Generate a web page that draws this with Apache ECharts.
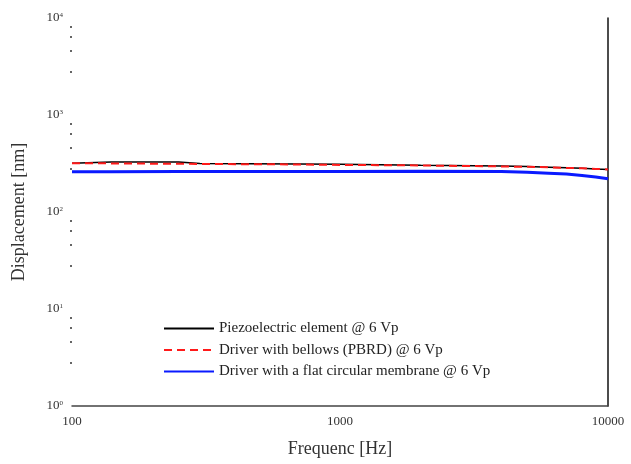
<!DOCTYPE html>
<html>
<head>
<meta charset="utf-8">
<title>Displacement vs frequency</title>
<script src="https://cdn.jsdelivr.net/npm/echarts@6/dist/echarts.min.js"></script>
<style>
  html, body { margin: 0; padding: 0; background: #fff; }
  #chart { width: 631px; height: 464px; }
</style>
</head>
<body>
<div id="chart"></div>
<script>
// frequencies [Hz] and displacements [nm]
var freq  = [100, 140, 250, 300, 700, 1000, 2000, 4000, 5000, 6000, 7000, 8000, 9000, 10000];
var piezo = [319, 328, 328, 316, 312, 310, 303, 298, 294, 290, 286, 282, 278, 275];
var bellows = [319, 317, 314, 313, 309, 306, 302, 295, 292, 289, 285, 282, 278, 275];
var membrane = [260, 260, 261, 261, 262, 262, 263, 262, 257, 251, 246, 238, 229, 220];
var names = [
  'Piezoelectric element @ 6 Vp',
  'Driver with bellows (PBRD) @ 6 Vp',
  'Driver with a flat circular membrane @ 6 Vp'
];

var pairs = function (ys) { return freq.map(function (f, i) { return [f, ys[i]]; }); };
var serif = 'Liberation Serif';

var chart = echarts.init(document.getElementById('chart'));
chart.setOption({
  animation: false,
  textStyle: { fontFamily: serif },
  grid: { left: 72, right: 23, top: 18, bottom: 58 },
  legend: {
    orient: 'vertical',
    left: 158, top: 316,
    itemWidth: 50, itemHeight: 12, itemGap: 6.5,
    itemStyle: { opacity: 0 },
    textStyle: { fontFamily: serif, fontSize: 15, color: '#222' },
    data: names
  },
  xAxis: {
    type: 'log', logBase: 10, min: 100, max: 10000,
    name: 'Frequenc [Hz]', nameLocation: 'middle', nameGap: 34,
    nameTextStyle: { fontFamily: serif, fontSize: 18, color: '#333' },
    axisLine: { lineStyle: { color: '#444', width: 1.5 } },
    axisTick: { show: false },
    axisLabel: {
      fontFamily: serif, fontSize: 13, color: '#333', margin: 9,
      formatter: function (v) { return String(Math.round(v)); }
    },
    splitLine: { show: false }
  },
  yAxis: [{
    type: 'log', logBase: 10, min: 1, max: 10000,
    name: 'Displacement [nm]', nameLocation: 'middle', nameGap: 44,
    nameTextStyle: { fontFamily: serif, fontSize: 18, color: '#333' },
    axisLine: { show: false },
    axisTick: { show: false },
    minorTick: { show: true, splitNumber: 5, length: 2, lineStyle: { color: '#333', width: 1.5 } },
    axisLabel: {
      margin: 9,
      formatter: function (v) { return '{b|10}{s|' + Math.round(Math.log10(v)) + '}'; },
      rich: {
        b: { fontFamily: serif, fontSize: 13, color: '#333' },
        s: { fontFamily: serif, fontSize: 7, color: '#333', verticalAlign: 'top', padding: [0, 0, 6, 0] }
      }
    },
    splitLine: { show: false }
  }, {
    type: 'log', logBase: 10, min: 1, max: 10000, position: 'right',
    axisLine: { show: true, lineStyle: { color: '#111', width: 1.5 } },
    axisTick: { show: false }, axisLabel: { show: false }, splitLine: { show: false }
  }],
  series: [{
    name: names[0], type: 'line', showSymbol: false, symbol: 'none',
    lineStyle: { color: '#000', width: 1.5 }, itemStyle: { color: '#000' },
    data: pairs(piezo)
  }, {
    name: names[1], type: 'line', showSymbol: false, symbol: 'none', z: 3,
    lineStyle: { color: '#ff1a1a', width: 2, type: [8, 5] }, itemStyle: { color: '#ff1a1a' },
    data: pairs(bellows)
  }, {
    name: names[2], type: 'line', showSymbol: false, symbol: 'none',
    lineStyle: { color: '#0a1aff', width: 3 }, itemStyle: { color: '#0a1aff' },
    data: pairs(membrane)
  }]
});
</script>
</body>
</html>
